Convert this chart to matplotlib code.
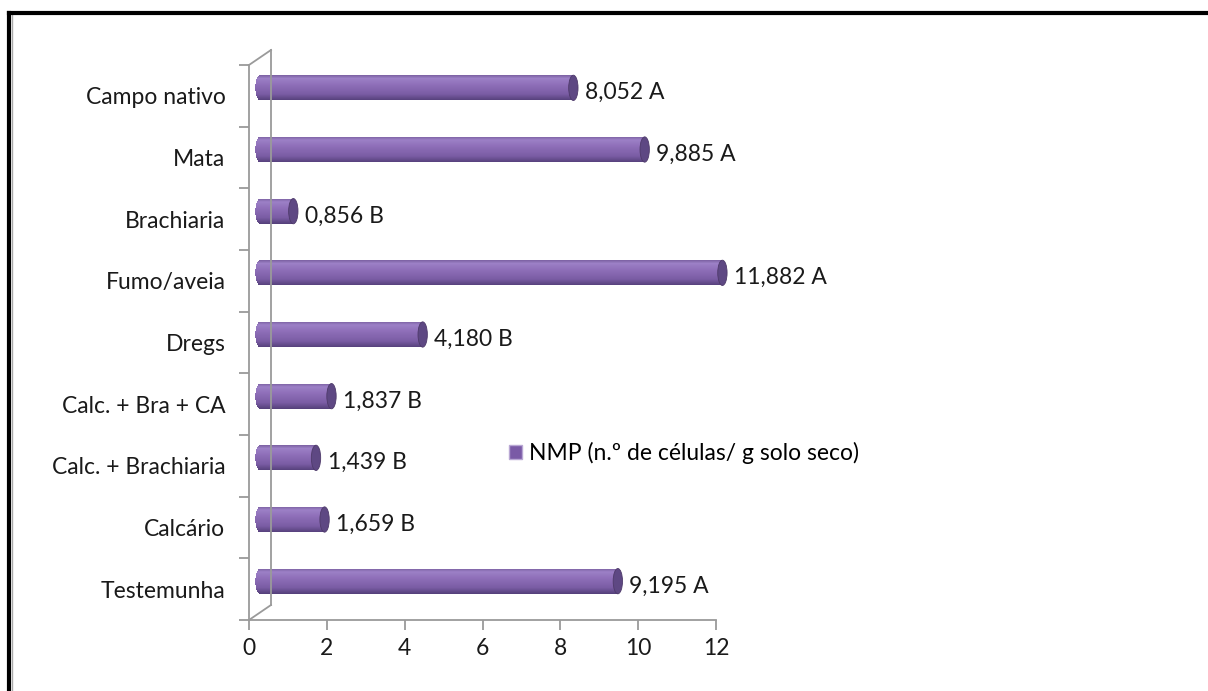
import numpy as np
import matplotlib.pyplot as plt
import matplotlib.transforms as mtransforms
from matplotlib.patches import Ellipse, Patch
from matplotlib.lines import Line2D
from matplotlib.colors import to_rgb

# dados (de baixo para cima)
categorias = ['Testemunha', 'Calcário', 'Calc. + Brachiaria', 'Calc. + Bra + CA',
              'Dregs', 'Fumo/aveia', 'Brachiaria', 'Mata', 'Campo nativo']
valores = [9.195, 1.659, 1.439, 1.837, 4.180, 11.882, 0.856, 9.885, 8.052]
letras = ['A', 'B', 'B', 'B', 'B', 'A', 'B', 'A', 'A']
legenda = 'NMP (n.º de células/ g solo seco)'

plt.rcParams['font.family'] = ['Lato', 'DejaVu Sans']
fs = 16.5

W, H = 1208, 691
fig = plt.figure(figsize=(W / 100, H / 100), dpi=100)
ax = fig.add_axes([249 / W, 71 / H, 467 / W, 555 / H])
ax.set_xlim(0, 12)
ax.set_ylim(-0.5, len(categorias) - 0.5)

cinza = '#9a9a9a'
for s in ['top', 'right']:
    ax.spines[s].set_visible(False)
for s in ['left', 'bottom']:
    ax.spines[s].set_color(cinza)
    ax.spines[s].set_linewidth(1.3)

ax.set_xticks(np.arange(0, 13, 2))
ax.set_xticklabels([str(v) for v in range(0, 13, 2)])
ax.set_yticks(np.arange(-0.5, len(categorias), 1.0), minor=False)
ax.set_yticklabels([])
ax.set_yticks(np.arange(len(categorias)), minor=True)
ax.set_yticklabels(categorias, minor=True)
ax.tick_params(axis='y', which='minor', length=0, pad=17, labelsize=fs, labelcolor='#1a1a1a')
ax.tick_params(axis='y', which='major', length=7, color=cinza, width=1.3)
ax.tick_params(axis='x', length=7, color=cinza, width=1.3, labelsize=fs, pad=6, labelcolor='#1a1a1a')

# parede de fundo (profundidade 3D)
parede = mtransforms.offset_copy(ax.transData, fig=fig, x=22, y=15, units='dots')
ax.plot([0, 0], [-0.5, len(categorias) - 0.5], color=cinza, lw=1.3, transform=parede, clip_on=False)
for yy in [-0.5, len(categorias) - 0.5]:
    p0 = ax.transData.transform((0, yy))
    p1 = parede.transform((0, yy))
    fig.add_artist(Line2D([p0[0] / W, p1[0] / W], [p0[1] / H, p1[1] / H],
                          color=cinza, lw=1.3, transform=fig.transFigure))

# cilindros (gradiente vertical em faixas finas)
meio = mtransforms.offset_copy(ax.transData, fig=fig, x=11, y=8, units='dots')
h = 0.41
rx = 0.12
n = 50
grad_t = [-1.0, -0.5, 0.2, 0.75, 1.0]
grad_c = np.array([to_rgb(c) for c in ['#55407a', '#7a5ca4', '#8d6db7', '#9c80c6', '#7d62a3']])
for i, (v, l) in enumerate(zip(valores, letras)):
    for k in range(n):
        t = 1 - (k + 0.5) / n * 2  # 1 em cima, -1 em baixo
        c = [np.interp(t, grad_t, grad_c[:, j]) for j in range(3)]
        cap = rx * np.sqrt(max(0.0, 1 - t * t))
        yk = i + h / 2 - (k + 0.5) * h / n
        ax.barh(yk, v + cap, left=-cap, height=h / n * 1.05, color=c, lw=0,
                transform=meio, clip_on=False)
    ax.add_patch(Ellipse((v, i), 2 * rx, h, facecolor='#5e4883', edgecolor='#4e3a6a',
                         lw=0.6, transform=meio, clip_on=False))
    ax.annotate(f'{v:.3f}'.replace('.', ',') + ' ' + l, xy=(v + rx, i), xycoords=meio,
                xytext=(5, -3.5), textcoords='offset points', va='center', ha='left',
                fontsize=fs, color='#1a1a1a')

ax.legend(handles=[Patch(facecolor='#7a5aa6', edgecolor='#b9a8d4')], labels=[legenda],
          loc='center left', bbox_to_anchor=(488 / W, 1 - 453 / H), bbox_transform=fig.transFigure,
          frameon=False, fontsize=fs, handlelength=0.6, handleheight=0.6, handletextpad=0.3)

# moldura
fig.add_artist(Line2D([9 / W, 9 / W], [0, 1 - 13 / H], color='black', lw=3, transform=fig.transFigure))
fig.add_artist(Line2D([12 / W, 12 / W], [0, 1 - 15 / H], color='#aaaaaa', lw=1, transform=fig.transFigure))
fig.add_artist(Line2D([9 / W, 1], [1 - 13 / H, 1 - 13 / H], color='black', lw=3, transform=fig.transFigure))

fig.savefig('out.png', dpi=100)
